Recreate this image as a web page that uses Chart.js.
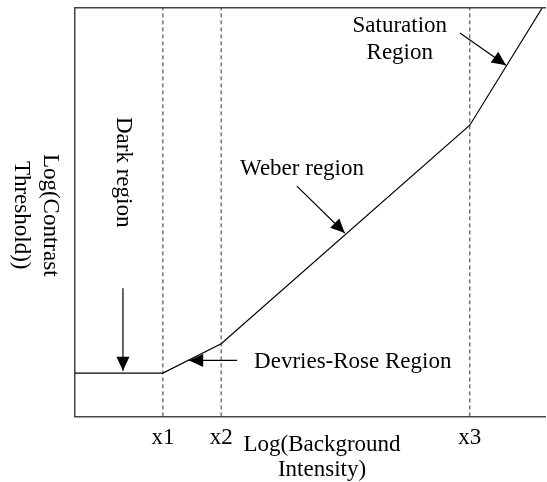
<!DOCTYPE html>
<html><head><meta charset="utf-8">
<script src="https://cdn.jsdelivr.net/npm/chart.js@4/dist/chart.umd.min.js"></script>
<style>html,body{margin:0;padding:0;background:#fff}</style>
</head><body>
<canvas id="c" width="547" height="482"></canvas>
<script>
// ---- data (axis units: 0..10 on both axes) ----
const curveX = [0, 1.87, 3.11, 8.40, 9.94];
const curveY = [1.06, 1.06, 1.78, 7.13, 10];
const boundaryNames = ['x1', 'x2', 'x3'];
const boundaryX = [1.87, 3.11, 8.40];
const xTitle = ['Log(Background', 'Intensity)'];
const yTitle = ['Log(Contrast', 'Threshold))'];
const arrowFromX = [1.02, 3.45, 4.72, 8.19];
const arrowFromY = [3.14, 1.37, 5.64, 9.39];
const arrowToX   = [1.02, 2.43, 5.74, 9.17];
const arrowToY   = [1.12, 1.37, 4.49, 8.60];
const noteText = ['Dark region', 'Devries-Rose Region', 'Weber region', 'Saturation', 'Region'];
const noteX = [0.894, 3.81, 4.83, 6.91, 6.91];
const noteY = [5.98, 1.18, 5.91, 9.41, 8.75];

const FONT = '"Liberation Serif", "Times New Roman", serif';
const noteStyle = [
  {rot: Math.PI / 2, align: 'center'},
  {rot: 0, align: 'left'},
  {rot: 0, align: 'center'},
  {rot: 0, align: 'center'},
  {rot: 0, align: 'center'}
];

const datasets = [];
datasets.push({
  data: curveX.map((x, i) => ({x, y: curveY[i]})),
  borderColor: '#000', borderWidth: 1.2, pointRadius: 0, showLine: true, tension: 0
});
boundaryX.forEach(bx => datasets.push({
  data: [{x: bx, y: 0}, {x: bx, y: 10}],
  borderColor: '#333', borderWidth: 1, borderDash: [4, 3], pointRadius: 0, showLine: true
}));
arrowFromX.forEach((fx, i) => datasets.push({
  data: [{x: fx, y: arrowFromY[i]}, {x: arrowToX[i], y: arrowToY[i]}],
  borderColor: '#000', borderWidth: 1.2, pointRadius: 0, showLine: true
}));

const annot = {
  id: 'annot',
  afterDatasetsDraw(chart) {
    const {ctx, chartArea: ca} = chart;
    const sx = chart.scales.x, sy = chart.scales.y;
    ctx.save();
    ctx.fillStyle = '#000';
    // arrowheads
    arrowFromX.forEach((fx, i) => {
      const x0 = sx.getPixelForValue(fx), y0 = sy.getPixelForValue(arrowFromY[i]);
      const x1 = sx.getPixelForValue(arrowToX[i]), y1 = sy.getPixelForValue(arrowToY[i]);
      const a = Math.atan2(y1 - y0, x1 - x0), L = 14, W = 6.5;
      const bx = x1 - L * Math.cos(a), by = y1 - L * Math.sin(a);
      ctx.beginPath();
      ctx.moveTo(x1, y1);
      ctx.lineTo(bx + W * Math.sin(a), by - W * Math.cos(a));
      ctx.lineTo(bx - W * Math.sin(a), by + W * Math.cos(a));
      ctx.closePath();
      ctx.fill();
    });
    ctx.font = '23px ' + FONT;
    ctx.textBaseline = 'alphabetic';
    noteText.forEach((t, i) => {
      ctx.save();
      ctx.translate(sx.getPixelForValue(noteX[i]), sy.getPixelForValue(noteY[i]));
      ctx.rotate(noteStyle[i].rot);
      ctx.textAlign = noteStyle[i].align;
      ctx.fillText(t, 0, 0);
      ctx.restore();
    });
    // x axis title
    const cx = (ca.left + ca.right) / 2 + 12;
    ctx.textAlign = 'center';
    xTitle.forEach((t, i) => ctx.fillText(t, cx, ca.bottom + 35 + i * 25));
    // y axis title (rotated clockwise)
    const cy = (ca.top + ca.bottom) / 2 + 3;
    yTitle.forEach((t, i) => {
      ctx.save();
      ctx.translate(ca.left - 31 - i * 29, cy);
      ctx.rotate(Math.PI / 2);
      ctx.textAlign = 'center';
      ctx.fillText(t, 0, 0);
      ctx.restore();
    });
    ctx.restore();
  }
};

const axisBorder = {display: true, color: '#444', width: 1.5};
new Chart(document.getElementById('c'), {
  type: 'scatter',
  data: {datasets},
  options: {
    responsive: false, animation: false, devicePixelRatio: 1,
    layout: {padding: {left: 75, top: 8, right: 2, bottom: 22}},
    plugins: {legend: {display: false}, tooltip: {enabled: false}},
    scales: {
      x: {
        type: 'linear', position: 'bottom', min: 0, max: 10,
        grid: {display: false, drawTicks: false}, border: axisBorder,
        afterBuildTicks: s => { s.ticks = boundaryX.map(v => ({value: v})); },
        ticks: {
          autoSkip: false, maxRotation: 0, padding: 8, color: '#000',
          font: {family: FONT, size: 23},
          callback: v => boundaryNames[boundaryX.indexOf(v)]
        }
      },
      xTop: {
        type: 'linear', axis: 'x', position: 'top', min: 0, max: 10,
        ticks: {display: false}, grid: {display: false, drawTicks: false}, border: axisBorder
      },
      y: {
        type: 'linear', min: 0, max: 10,
        ticks: {display: false}, grid: {display: false, drawTicks: false}, border: axisBorder
      }
    }
  },
  plugins: [annot]
});
</script>
</body></html>
